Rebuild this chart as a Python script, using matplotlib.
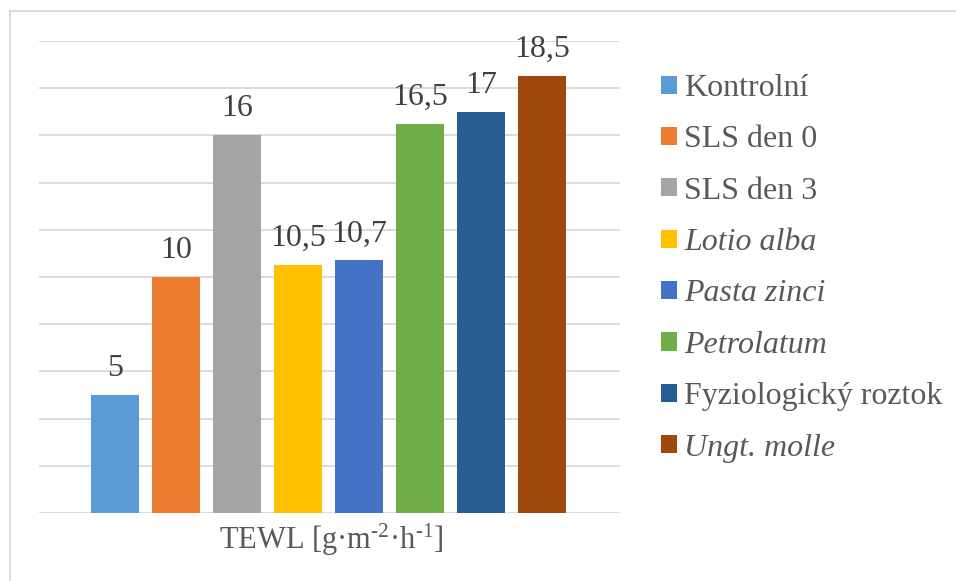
import matplotlib
matplotlib.use("Agg")
import matplotlib.pyplot as plt
from matplotlib.patches import Patch
from matplotlib.lines import Line2D

plt.rcParams["font.family"] = ["Liberation Serif", "DejaVu Serif"]
plt.rcParams["mathtext.fontset"] = "custom"
plt.rcParams["mathtext.rm"] = "Liberation Serif"
plt.rcParams["mathtext.it"] = "Liberation Serif:italic"

categories = ["Kontrolní", "SLS den 0", "SLS den 3", "Lotio alba", "Pasta zinci",
              "Petrolatum", "Fyziologický roztok", "Ungt. molle"]
values = [5, 10, 16, 10.5, 10.7, 16.5, 17, 18.5]
value_labels = ["5", "10", "16", "10,5", "10,7", "16,5", "17", "18,5"]
italic_names = {"Lotio alba", "Pasta zinci", "Petrolatum", "Ungt. molle"}
colors = ["#5B9BD5", "#ED7D31", "#A5A5A5", "#FFC000", "#4472C4",
          "#70AD47", "#255E91", "#9E480E"]
y_ticks = list(range(0, 21, 2))

W, H = 956, 581
FS = 23
fig = plt.figure(figsize=(W / 100, H / 100), dpi=100)
fig.patch.set_facecolor("white")

# outer chart frame (left and top edges visible)
fig.add_artist(Line2D([9.5 / W, 9.5 / W], [0, 1 - 11 / H], transform=fig.transFigure,
                      color="#d9d9d9", lw=1.3))
fig.add_artist(Line2D([9.5 / W, 1], [1 - 11 / H, 1 - 11 / H], transform=fig.transFigure,
                      color="#d9d9d9", lw=1.3))

left, right, bottom, top = 39, 620, 513, 41
ax = fig.add_axes([left / W, 1 - bottom / H, (right - left) / W, (bottom - top) / H])

x = list(range(len(values)))
bars = ax.bar(x, values, width=0.787, color=colors, zorder=3)
ax.set_xlim(-1.246, 8.28)
ax.set_ylim(0, 20)
ax.set_yticks(y_ticks)
for yv in y_ticks:
    ax.axhline(yv, color="#d9d9d9", lw=1.3, zorder=1)
for s in ax.spines.values():
    s.set_visible(False)
ax.tick_params(left=False, bottom=False, labelleft=False, labelbottom=False)

for xi, v, lab in zip(x, values, value_labels):
    ax.annotate(lab, (xi, v), xytext=(0, 8.7), textcoords="offset points",
                ha="center", va="bottom", fontsize=FS, color="#404040")

fig.text(331 / W, 1 - 540 / H, r"TEWL [g·m$^{\mathrm{‐2}}$·h$^{\mathrm{‐1}}$]",
         ha="center", va="center", fontsize=22, color="#595959")

handles = [Patch(facecolor=c, edgecolor="none") for c in colors]
leg = fig.legend(handles, categories, loc="upper left",
                 bbox_to_anchor=(661 / W, 1 - 74 / H), frameon=False,
                 fontsize=FS, handlelength=0.5, handleheight=0.5,
                 handletextpad=0.22, labelspacing=0.70, borderaxespad=0,
                 borderpad=0)
for t in leg.get_texts():
    t.set_color("#595959")
    if t.get_text() in italic_names:
        t.set_fontstyle("italic")

fig.savefig("out.png", dpi=100)
